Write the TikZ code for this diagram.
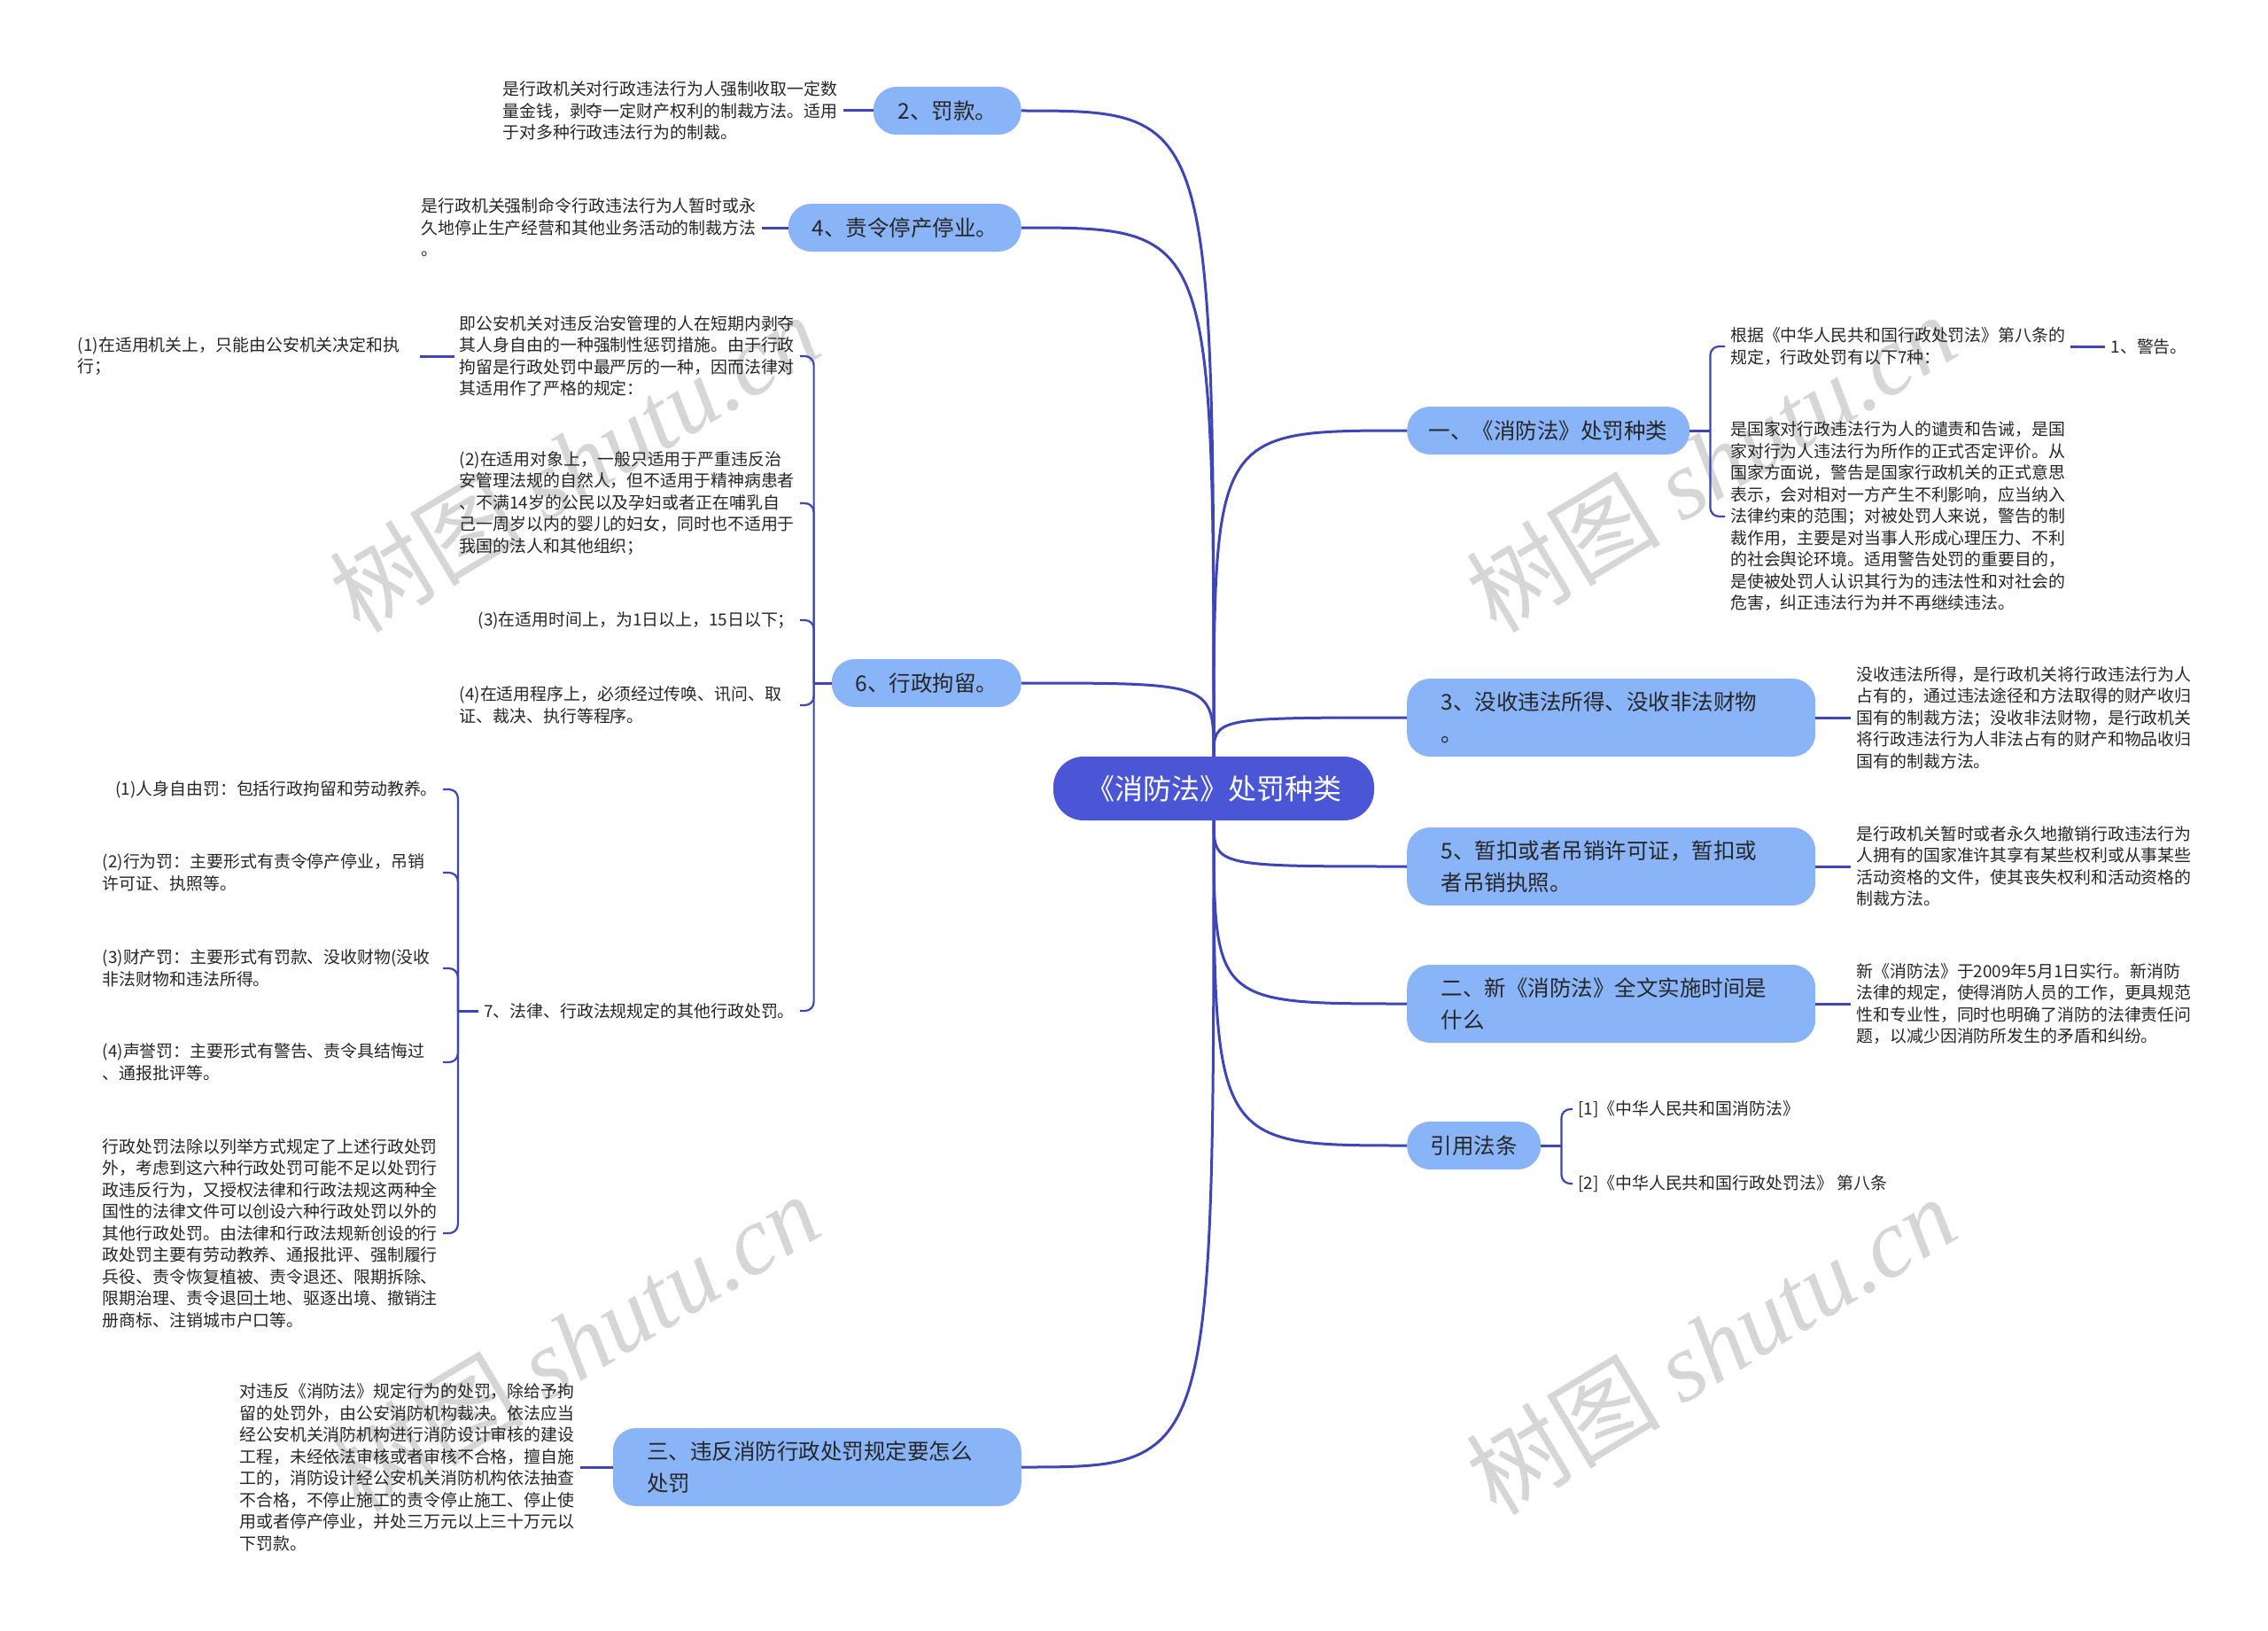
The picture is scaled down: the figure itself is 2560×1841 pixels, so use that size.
\documentclass[tikz,border=0pt]{standalone}
\usepackage{fontspec}
\setmainfont{Noto Sans CJK SC}
\newfontfamily\wmfont{Liberation Serif}
\usepackage{xcolor}
\usepackage{tikz}
\usetikzlibrary{positioning}
\definecolor{rootblue}{RGB}{75,86,214}
\definecolor{topicblue}{RGB}{138,180,248}
\definecolor{linkblue}{RGB}{61,69,184}
\definecolor{inkgray}{RGB}{38,38,38}
\definecolor{wmgray}{RGB}{214,214,214}

\begin{document}
\begin{tikzpicture}[x=1pt, y=-1pt,
    rootbox/.style={rectangle, rounded corners=34pt, fill=rootblue, text=white, minimum width=362pt, minimum height=72pt, font=\fontsize{32pt}{38pt}\selectfont},
    topicbox/.style={rectangle, rounded corners=26pt, fill=topicblue, text=inkgray, minimum height=54pt, inner xsep=18pt, font=\fontsize{24.5pt}{36pt}\selectfont},
    widebox/.style={topicbox, minimum width=461pt, minimum height=88pt, text width=384pt, align=left},
    leaf/.style={align=left, inner xsep=6pt, inner ysep=2pt, text=inkgray, font=\fontsize{18.9pt}{24.5pt}\selectfont},
    blockleaf/.style={leaf, text width=378pt},
    link/.style={draw=linkblue, line width=3pt},
    brace/.style={draw=linkblue, line width=2.2pt, rounded corners=10pt},
    wmark/.style={text=wmgray, rotate=31, font=\fontsize{110pt}{110pt}\selectfont}
]
\fill[white] (0,0) rectangle (2560,1841);
\useasboundingbox (0,0) rectangle (2560,1841);

% watermarks
\node[wmark] (wm1) at (648,522) {树图 {\wmfont\itshape shutu.cn}};
\node[wmark] (wm2) at (1931,522) {树图 {\wmfont\itshape shutu.cn}};
\node[wmark] (wm3) at (648,1515) {树图 {\wmfont\itshape shutu.cn}};
\node[wmark] (wm4) at (1931,1518) {树图 {\wmfont\itshape shutu.cn}};

% centre and main topics
\node[rootbox] (root) at (1370,890) {《消防法》处罚种类};

\node[topicbox, minimum width=167pt, anchor=east] (fine) at (1153,125) {2、罚款。};
\node[topicbox, minimum width=263pt, anchor=east] (halt) at (1153,257) {4、责令停产停业。};
\node[topicbox, minimum width=214pt, anchor=east] (detain) at (1153,771) {6、行政拘留。};
\node[widebox, anchor=east] (handle) at (1153,1656) {三、违反消防行政处罚规定要怎么\\处罚};

\node[topicbox, minimum width=319pt, anchor=west] (kinds) at (1588,486) {一、《消防法》处罚种类};
\node[widebox, anchor=west] (confisc) at (1588,810) {3、没收违法所得、没收非法财物\\。};
\node[widebox, anchor=west] (revoke) at (1588,978) {5、暂扣或者吊销许可证，暂扣或\\者吊销执照。};
\node[widebox, anchor=west] (since) at (1588,1133) {二、新《消防法》全文实施时间是\\什么};
\node[topicbox, minimum width=151pt, anchor=west] (cite) at (1588,1293) {引用法条};

\foreach \t in {fine, halt, detain}
    \draw[link] (root.north) .. controls (root.north |- \t.east) .. (\t.east);
\draw[link] (root.south) .. controls (root.south |- handle.east) .. (handle.east);
\foreach \t in {kinds, confisc}
    \draw[link] (root.north) .. controls (root.north |- \t.west) .. (\t.west);
\foreach \t in {revoke, since, cite}
    \draw[link] (root.south) .. controls (root.south |- \t.west) .. (\t.west);

% left leaves
\node[leaf, left=34pt of fine] (fineT) {是行政机关对行政违法行为人强制收取一定数\\量金钱，剥夺一定财产权利的制裁方法。适用\\于对多种行政违法行为的制裁。};
\node[leaf, left=30pt of halt] (haltT) {是行政机关强制命令行政违法行为人暂时或永\\久地停止生产经营和其他业务活动的制裁方法\\。};
\node[leaf, left=37pt of handle] (handleT) {对违反《消防法》规定行为的处罚，除给予拘\\留的处罚外，由公安消防机构裁决。依法应当\\经公安机关消防机构进行消防设计审核的建设\\工程，未经依法审核或者审核不合格，擅自施\\工的，消防设计经公安机关消防机构依法抽查\\不合格，不停止施工的责令停止施工、停止使\\用或者停产停业，并处三万元以上三十万元以\\下罚款。};
\draw[link] (fineT.east) -- (fine.west);
\draw[link] (haltT.east) -- (halt.west);
\draw[link] (handleT.east) -- (handle.west);

% detention branch
\coordinate[left=20pt of detain] (dj);
\node[blockleaf, anchor=east] (dA) at (903,402) {即公安机关对违反治安管理的人在短期内剥夺\\其人身自由的一种强制性惩罚措施。由于行政\\拘留是行政处罚中最严厉的一种，因而法律对\\其适用作了严格的规定：};
\node[blockleaf, anchor=east] (dB) at (903,568) {(2)在适用对象上，一般只适用于严重违反治\\安管理法规的自然人，但不适用于精神病患者\\、不满14岁的公民以及孕妇或者正在哺乳自\\己一周岁以内的婴儿的妇女，同时也不适用于\\我国的法人和其他组织；};
\node[leaf, anchor=east] (dC) at (903,700) {(3)在适用时间上，为1日以上，15日以下；};
\node[blockleaf, anchor=east] (dD) at (903,796) {(4)在适用程序上，必须经过传唤、讯问、取\\证、裁决、执行等程序。};
\node[leaf, anchor=east] (dE) at (903,1141) {7、法律、行政法规规定的其他行政处罚。};
\node[leaf, left=55pt of dA] (dA1) {(1)在适用机关上，只能由公安机关决定和执\\行；};
\draw[link] (detain.west) -- (dj);
\foreach \c in {dA, dB, dC, dD, dE}
    \draw[brace] (dj) |- (\c.east);
\draw[link, shorten <=16pt] (dA1.east) -- (dA.west);

% other penalties
\coordinate[left=23pt of dE] (ej);
\node[leaf, anchor=east] (eA) at (500,891) {(1)人身自由罚：包括行政拘留和劳动教养。};
\node[blockleaf, anchor=east] (eB) at (500,985) {(2)行为罚：主要形式有责令停产停业，吊销\\许可证、执照等。};
\node[blockleaf, anchor=east] (eC) at (500,1093) {(3)财产罚：主要形式有罚款、没收财物(没收\\非法财物和违法所得。};
\node[blockleaf, anchor=east] (eD) at (500,1199) {(4)声誉罚：主要形式有警告、责令具结悔过\\、通报批评等。};
\node[blockleaf, anchor=east] (eE) at (500,1392) {行政处罚法除以列举方式规定了上述行政处罚\\外，考虑到这六种行政处罚可能不足以处罚行\\政违反行为，又授权法律和行政法规这两种全\\国性的法律文件可以创设六种行政处罚以外的\\其他行政处罚。由法律和行政法规新创设的行\\政处罚主要有劳动教养、通报批评、强制履行\\兵役、责令恢复植被、责令退还、限期拆除、\\限期治理、责令退回土地、驱逐出境、撤销注\\册商标、注销城市户口等。};
\draw[link] (dE.west) -- (ej);
\foreach \c in {eA, eB, eC, eD, eE}
    \draw[brace] (ej) |- (\c.east);

% right leaves
\coordinate[right=23pt of kinds] (kj);
\node[leaf, anchor=west] (kA) at (1947,391) {根据《中华人民共和国行政处罚法》第八条的\\规定，行政处罚有以下7种：};
\node[leaf, anchor=west] (kB) at (1947,583) {是国家对行政违法行为人的谴责和告诫，是国\\家对行为人违法行为所作的正式否定评价。从\\国家方面说，警告是国家行政机关的正式意思\\表示，会对相对一方产生不利影响，应当纳入\\法律约束的范围；对被处罚人来说，警告的制\\裁作用，主要是对当事人形成心理压力、不利\\的社会舆论环境。适用警告处罚的重要目的，\\是使被处罚人认识其行为的违法性和对社会的\\危害，纠正违法行为并不再继续违法。};
\node[leaf, right=39pt of kA] (kA1) {1、警告。};
\draw[link] (kinds.east) -- (kj);
\foreach \c in {kA, kB}
    \draw[brace] (kj) |- (\c.west);
\draw[link] (kA.east) -- (kA1.west);

\node[leaf, right=40pt of confisc] (confiscT) {没收违法所得，是行政机关将行政违法行为人\\占有的，通过违法途径和方法取得的财产收归\\国有的制裁方法；没收非法财物，是行政机关\\将行政违法行为人非法占有的财产和物品收归\\国有的制裁方法。};
\node[leaf, right=40pt of revoke] (revokeT) {是行政机关暂时或者永久地撤销行政违法行为\\人拥有的国家准许其享有某些权利或从事某些\\活动资格的文件，使其丧失权利和活动资格的\\制裁方法。};
\node[leaf, right=40pt of since] (sinceT) {新《消防法》于2009年5月1日实行。新消防\\法律的规定，使得消防人员的工作，更具规范\\性和专业性，同时也明确了消防的法律责任问\\题，以减少因消防所发生的矛盾和纠纷。};
\foreach \t in {confisc, revoke, since}
    \draw[link] (\t.east) -- (\t T.west);

\coordinate[right=23pt of cite] (cj);
\node[leaf, anchor=west] (cA) at (1775,1252) {[1]《中华人民共和国消防法》};
\node[leaf, anchor=west] (cB) at (1775,1336) {[2]《中华人民共和国行政处罚法》 第八条};
\draw[link] (cite.east) -- (cj);
\foreach \c in {cA, cB}
    \draw[brace] (cj) |- (\c.west);
\end{tikzpicture}
\end{document}
